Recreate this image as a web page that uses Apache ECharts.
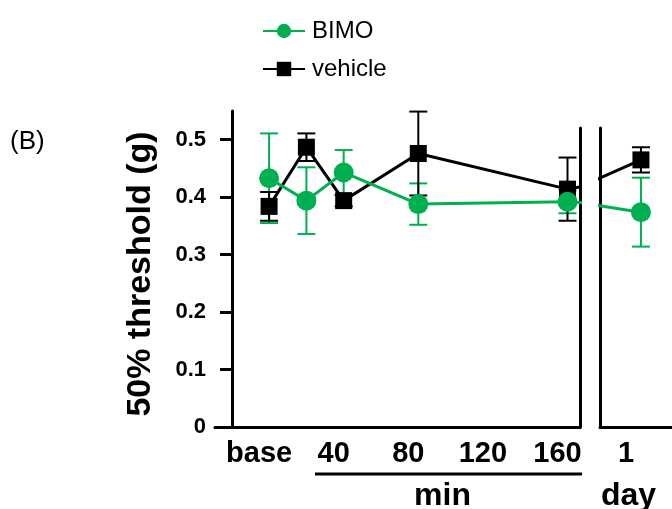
<!DOCTYPE html>
<html>
<head>
<meta charset="utf-8">
<script src="https://cdn.jsdelivr.net/npm/echarts@6/dist/echarts.min.js"></script>
<style>
  html, body { margin: 0; padding: 0; background: #fff; }
  #chart { width: 672px; height: 509px; }
</style>
</head>
<body>
<div id="chart"></div>
<script>
// minutes after dosing (0 = base)
const minutes = [0, 20, 40, 80, 160];
const bimoMean = [0.433, 0.394, 0.443, 0.388, 0.392];
const bimoErr = [0.078, 0.058, 0.039, 0.036, 0.02];
const vehicleMean = [0.384, 0.487, 0.394, 0.476, 0.414];
const vehicleErr = [0.025, 0.024, 0.01, 0.073, 0.055];

// day panel
const days = [1];
const bimoDayMean = [0.374];
const bimoDayErr = [0.06];
const vehicleDayMean = [0.465];
const vehicleDayErr = [0.022];

const minTicks = [0, 40, 80, 120, 160];
const dayTicks = [1];
const yTicks = [0, 0.1, 0.2, 0.3, 0.4, 0.5];

// where the next panel's point sits on each broken axis (off-grid, clipped)
const dayOnMinuteAxis = 250;
const lastMinuteOnDayAxis = 0;

const GREEN = "#00b050";
const FONT = "Liberation Sans";

window.chart = echarts.init(document.getElementById("chart"));

function pairs(xs, ys) {
  return xs.map((x, i) => [x, ys[i]]);
}
function errData(xs, ys, es) {
  return xs.map((x, i) => [x, ys[i] - es[i], ys[i] + es[i]]);
}

function renderErr(params, api) {
  const x = api.value(0);
  const lo = api.coord([x, api.value(1)]);
  const hi = api.coord([x, api.value(2)]);
  const w = 9;
  const style = { stroke: api.visual("color"), lineWidth: 2 };
  return {
    type: "group",
    children: [
      { type: "line", shape: { x1: lo[0], y1: lo[1], x2: hi[0], y2: hi[1] }, style: style },
      { type: "line", shape: { x1: lo[0] - w, y1: lo[1], x2: lo[0] + w, y2: lo[1] }, style: style },
      { type: "line", shape: { x1: hi[0] - w, y1: hi[1], x2: hi[0] + w, y2: hi[1] }, style: style },
    ],
  };
}

const axisLineStyle = { show: true, onZero: false, lineStyle: { color: "#000", width: 3 } };

function getOptions() {
  return {
    animation: false,
    legend: {
      data: ["BIMO", "vehicle"],
      orient: "vertical",
      left: 257,
      top: 14,
      itemWidth: 42,
      itemHeight: 18,
      itemGap: 14,
      textStyle: { fontFamily: FONT, fontSize: 24, color: "#000", padding: [0, 0, 0, 2] },
    },
    graphic: [
      {
        type: "text",
        left: 10,
        top: 129,
        style: { text: "(B)", fontFamily: FONT, fontSize: 26, fill: "#000" },
      },
      {
        type: "line",
        shape: { x1: 315, y1: 474, x2: 582, y2: 474 },
        style: { stroke: "#000", lineWidth: 3 },
      },
    ],
    grid: [
      { left: 215, top: 111, width: 365, height: 316, outerBoundsMode: "none" },
      { left: 600, top: 128, width: 107, height: 299, outerBoundsMode: "none" },
      { left: 215, top: 128, width: 365, height: 299, outerBoundsMode: "none" },
    ],
    xAxis: [
      {
        gridIndex: 0,
        type: "value",
        min: -29,
        max: 166.7,
        axisLine: axisLineStyle,
        axisTick: { show: false },
        splitLine: { show: false },
        axisLabel: {
          customValues: minTicks,
          margin: 12,
          padding: [0, 20, 0, 0],
          fontFamily: FONT,
          fontWeight: "bold",
          fontSize: 29,
          color: "#000",
          formatter: (v) => (v === 0 ? "base" : String(v)),
        },
        name: "min",
        nameLocation: "middle",
        nameGap: 53,
        nameTextStyle: {
          fontFamily: FONT,
          fontWeight: "bold",
          fontSize: 32,
          color: "#000",
          padding: [0, 0, 0, 90],
        },
      },
      {
        gridIndex: 1,
        type: "value",
        min: 0.38,
        max: 2,
        axisLine: axisLineStyle,
        axisTick: { show: false },
        splitLine: { show: false },
        axisLabel: {
          customValues: dayTicks,
          margin: 12,
          padding: [0, 30, 0, 0],
          fontFamily: FONT,
          fontWeight: "bold",
          fontSize: 29,
          color: "#000",
        },
        name: "day",
        nameLocation: "middle",
        nameGap: 53,
        nameTextStyle: {
          fontFamily: FONT,
          fontWeight: "bold",
          fontSize: 32,
          color: "#000",
          padding: [0, 50, 0, 0],
        },
      },
      { gridIndex: 2, type: "value", show: false },
    ],
    yAxis: [
      {
        gridIndex: 0,
        type: "value",
        min: 0,
        max: 0.55,
        offset: -17,
        axisLine: axisLineStyle,
        axisTick: { show: true, customValues: yTicks, length: 12, lineStyle: { width: 3, color: "#000" } },
        splitLine: { show: false },
        axisLabel: {
          customValues: yTicks,
          margin: 26,
          fontFamily: FONT,
          fontWeight: "bold",
          fontSize: 22,
          color: "#000",
          formatter: (v) => (v === 0 ? "0" : v.toFixed(1)),
        },
        name: "50% threshold (g)",
        nameLocation: "middle",
        nameRotate: 90,
        nameGap: 74,
        nameTextStyle: {
          fontFamily: FONT,
          fontWeight: "bold",
          fontSize: 34,
          color: "#000",
          padding: [0, 10, 0, 0],
        },
      },
      {
        gridIndex: 1,
        type: "value",
        min: 0,
        max: 0.5205,
        axisLine: axisLineStyle,
        axisTick: { show: false },
        axisLabel: { show: false },
        splitLine: { show: false },
      },
      {
        gridIndex: 2,
        type: "value",
        position: "right",
        axisLine: axisLineStyle,
        axisTick: { show: false },
        axisLabel: { show: false },
        splitLine: { show: false },
      },
    ],
    series: [
      {
        name: "BIMO err",
        type: "custom",
        xAxisIndex: 0,
        yAxisIndex: 0,
        itemStyle: { color: GREEN },
        renderItem: renderErr,
        data: errData(minutes, bimoMean, bimoErr),
        z: 1,
      },
      {
        name: "vehicle err",
        type: "custom",
        xAxisIndex: 0,
        yAxisIndex: 0,
        itemStyle: { color: "#000" },
        renderItem: renderErr,
        data: errData(minutes, vehicleMean, vehicleErr),
        z: 2,
      },
      {
        name: "vehicle",
        type: "line",
        xAxisIndex: 0,
        yAxisIndex: 0,
        symbol: "rect",
        symbolSize: 17,
        color: "#000",
        lineStyle: { width: 3, color: "#000" },
        data: pairs(minutes, vehicleMean).concat([[dayOnMinuteAxis, vehicleDayMean[0]]]),
        z: 3,
      },
      {
        name: "BIMO",
        type: "line",
        xAxisIndex: 0,
        yAxisIndex: 0,
        symbol: "circle",
        symbolSize: 20,
        color: GREEN,
        lineStyle: { width: 3, color: GREEN },
        data: pairs(minutes, bimoMean).concat([[dayOnMinuteAxis, bimoDayMean[0]]]),
        z: 4,
      },
      {
        name: "BIMO err",
        type: "custom",
        xAxisIndex: 1,
        yAxisIndex: 1,
        itemStyle: { color: GREEN },
        renderItem: renderErr,
        data: errData(days, bimoDayMean, bimoDayErr),
        z: 1,
      },
      {
        name: "vehicle err",
        type: "custom",
        xAxisIndex: 1,
        yAxisIndex: 1,
        itemStyle: { color: "#000" },
        renderItem: renderErr,
        data: errData(days, vehicleDayMean, vehicleDayErr),
        z: 2,
      },
      {
        name: "vehicle",
        type: "line",
        xAxisIndex: 1,
        yAxisIndex: 1,
        symbol: "rect",
        symbolSize: 17,
        color: "#000",
        lineStyle: { width: 3, color: "#000" },
        data: [[lastMinuteOnDayAxis, vehicleMean[4]]].concat(pairs(days, vehicleDayMean)),
        z: 3,
      },
      {
        name: "BIMO",
        type: "line",
        xAxisIndex: 1,
        yAxisIndex: 1,
        symbol: "circle",
        symbolSize: 20,
        color: GREEN,
        lineStyle: { width: 3, color: GREEN },
        data: [[lastMinuteOnDayAxis, bimoMean[4]]].concat(pairs(days, bimoDayMean)),
        z: 4,
      },
    ],
  };
}

window.chart.setOption(getOptions());

window.addEventListener("resize", (e) => {
  window.chart.resize();
});
</script>
</body>
</html>
